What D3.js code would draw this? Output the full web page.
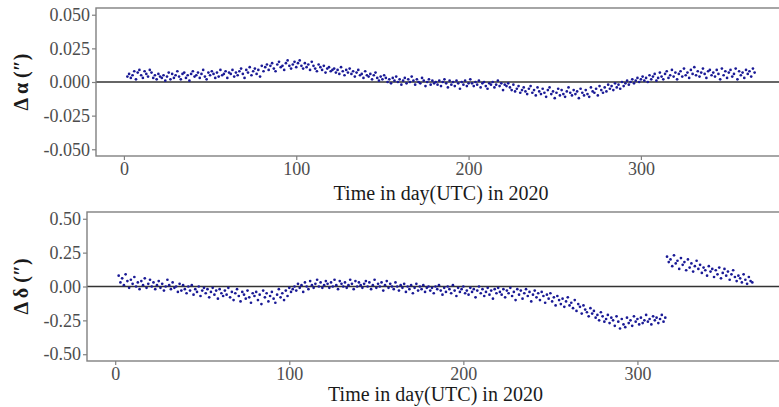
<!DOCTYPE html>
<html><head><meta charset="utf-8">
<script src="https://cdn.jsdelivr.net/npm/d3@7"></script>
<style>
body{margin:0;background:#fff;}
svg{display:block;}
</style></head>
<body>
<svg id="chart" width="779" height="407"></svg>
<script>
// ---- data ----
const firstDay = 2;   // first observation day (UTC day of 2020)
const lastDay = 366;
const xTicks = [0, 100, 200, 300];
const alphaTicks = [-0.050, -0.025, 0.000, 0.025, 0.050];
const deltaTicks = [-0.50, -0.25, 0.00, 0.25, 0.50];
const xTitle = "Time in day(UTC) in 2020";
const alphaTitle = "Δ α (″)";
const deltaTitle = "Δ δ (″)";
// Δα residuals, in units of 0.001″, one per day from firstDay
const dAlphaMilli = [
4,6,3,5,8,2,7,9,5,3,8,6,4,9,7,3,5,2,6,4,
3,5,1,4,7,2,6,3,5,8,4,2,6,7,3,5,1,6,8,4,
5,7,3,6,9,4,2,7,5,8,6,3,7,4,9,5,6,8,3,7,
6,9,4,7,5,8,10,6,3,9,7,11,5,8,10,6,9,4,12,8,
11,13,9,12,14,10,8,13,15,11,12,9,14,16,12,10,13,15,11,14,
16,12,10,14,11,13,9,15,12,10,8,13,11,9,12,7,10,11,8,9,
10,7,9,6,11,8,5,9,7,10,6,8,4,7,9,5,6,3,8,5,
4,6,2,5,7,3,1,4,2,5,3,0,2,-1,3,1,4,0,2,-2,
1,3,-1,2,0,4,1,-2,2,0,-1,3,1,-3,0,2,-2,1,-1,0,
-2,1,-3,0,2,-1,-4,1,-2,0,-3,1,-1,-5,0,-2,1,-3,-1,2,
-1,-3,0,-2,1,-4,-1,0,-3,-5,-1,-2,0,-4,-2,1,-3,-1,-6,-2,
-3,-1,-4,-6,-2,-7,-5,-3,-8,-6,-4,-7,-9,-5,-3,-8,-6,-10,-4,-7,
-9,-5,-8,-11,-6,-4,-9,-7,-12,-8,-5,-10,-6,-9,-11,-7,-4,-8,-10,-6,
-9,-7,-12,-5,-8,-10,-6,-9,-11,-4,-7,-8,-5,-10,-3,-6,-8,-4,-7,-2,
-5,-3,-6,-1,-4,-2,-5,0,-3,-1,1,-2,0,2,-1,1,3,0,2,4,
1,3,0,5,2,4,6,1,3,7,4,2,6,8,3,5,9,4,7,2,
6,8,4,10,5,7,3,9,6,11,5,8,4,7,10,6,3,8,9,5,
7,4,9,6,2,10,5,8,3,7,9,4,6,10,2,8,5,7,3,9,
6,8,4,10,7
];
// Δδ residuals, in units of 0.01″, one per day from firstDay
const dDeltaCenti = [
8,3,6,1,9,4,-1,5,2,7,0,3,-2,4,1,6,-1,2,5,0,
3,-2,1,4,-1,2,-3,0,5,1,-2,3,-1,0,-4,2,-3,1,-2,-5,
0,-3,1,-6,-2,-4,0,-7,-3,-1,-5,-2,-8,-4,-1,-6,-3,-9,-2,-5,
-7,-3,-6,-1,-8,-4,-10,-5,-2,-7,-11,-4,-6,-9,-3,-8,-12,-5,-7,-4,
-10,-6,-13,-3,-8,-5,-11,-7,-4,-9,-12,-6,-2,-8,-5,-10,-3,-7,-1,-4,
-2,0,-3,2,-1,1,-4,3,0,-2,4,1,-1,2,5,0,3,-1,1,4,
2,-1,3,0,5,1,-2,4,2,0,3,-1,1,5,2,-2,4,0,3,1,
-1,2,4,0,3,-2,1,5,-1,2,0,3,-3,1,4,-1,2,0,-2,3,
0,-3,1,-1,2,-4,0,-2,1,-5,-1,2,-3,0,-2,1,-4,-1,0,-3,
-1,-5,0,-2,1,-3,-6,-1,-4,0,-2,-5,1,-3,-7,-1,-4,-2,0,-5,
-3,-6,-1,-4,-2,-8,-3,0,-5,-2,-7,-4,-1,-6,-3,-9,-2,-5,-1,-4,
-6,-2,-8,-3,-5,-1,-7,-4,-10,-2,-6,-3,-9,-5,-2,-7,-4,-11,-6,-3,
-8,-5,-10,-4,-7,-12,-6,-9,-5,-11,-8,-14,-7,-10,-13,-9,-15,-11,-8,-14,
-12,-16,-10,-18,-13,-15,-20,-14,-17,-19,-22,-16,-20,-18,-23,-21,-25,-19,-22,-26,
-24,-21,-27,-23,-25,-29,-22,-26,-31,-24,-28,-30,-23,-27,-25,-29,-22,-26,-24,-28,
-23,-27,-25,-21,-26,-24,-28,-22,-25,-23,-27,-24,-21,-26,-23,
22,18,20,15,23,17,19,13,21,16,18,12,20,14,17,11,15,19,13,16,
10,14,12,8,15,11,13,7,12,9,14,6,10,13,8,11,5,9,12,7,
4,8,6,3,9,5,2,7,4,3
];

const days = d3.range(firstDay, lastDay + 1);
const alphaData = days.map((d, i) => ({day: d, v: dAlphaMilli[i] / 1000}));
const deltaData = days.map((d, i) => ({day: d, v: dDeltaCenti[i] / 100}));

// ---- drawing ----
const svg = d3.select("#chart");
const FONT = "'Liberation Serif','Times New Roman',serif";
const xPad = (lastDay - firstDay) * 0.05;

function panel(cfg) {
  const x = d3.scaleLinear().domain([firstDay - xPad, lastDay + xPad]).range([cfg.left, cfg.right]);
  const y = d3.scaleLinear().domain(cfg.domain).range([cfg.bottom, cfg.top]);
  const g = svg.append("g");

  // zero line
  g.append("line")
    .attr("x1", cfg.left).attr("x2", cfg.right)
    .attr("y1", y(0)).attr("y2", y(0))
    .attr("stroke", "#333").attr("stroke-width", 1.3);

  // points
  g.append("g").selectAll("circle").data(cfg.data).join("circle")
    .attr("cx", d => x(d.day)).attr("cy", d => y(d.v))
    .attr("r", 1.35).attr("fill", "#1a1a96");

  // frame
  g.append("rect")
    .attr("x", cfg.left).attr("y", cfg.top)
    .attr("width", cfg.right - cfg.left).attr("height", cfg.bottom - cfg.top)
    .attr("fill", "none").attr("stroke", "#808080").attr("stroke-width", 1.4);

  // axes
  const xa = g.append("g").attr("transform", `translate(0,${cfg.bottom})`)
    .call(d3.axisBottom(x).tickValues(xTicks).tickSize(4).tickPadding(2).tickFormat(d3.format("d")));
  const ya = g.append("g").attr("transform", `translate(${cfg.left},0)`)
    .call(d3.axisLeft(y).tickValues(cfg.ticks).tickSize(4).tickPadding(2).tickFormat(d3.format(cfg.fmt)));
  [xa, ya].forEach(a => {
    a.select(".domain").remove();
    a.selectAll(".tick line").attr("stroke", "#808080").attr("stroke-width", 1.2);
    a.selectAll(".tick text").attr("fill", "#4d4d4d").style("font-family", FONT).style("font-size", "18px");
  });
  ya.selectAll(".tick text").text(d => d3.format(cfg.fmt)(d).replace("−", "-"));

  // titles
  g.append("text")
    .attr("x", (cfg.left + cfg.right) / 2).attr("y", cfg.xTitleY)
    .attr("text-anchor", "middle")
    .style("font-family", FONT).style("font-size", "20px").attr("fill", "#1a1a1a")
    .text(xTitle);
  g.append("text")
    .attr("transform", `translate(${cfg.yTitleX},${y(0)}) rotate(-90)`)
    .attr("text-anchor", "middle").attr("dy", "0.35em")
    .style("font-family", FONT).style("font-size", "20px").style("font-weight", "bold").attr("fill", "#1a1a1a")
    .text(cfg.yTitle);
}

panel({left: 96, right: 786, top: 8, bottom: 156, domain: [-0.055, 0.055], ticks: alphaTicks, fmt: ".3f",
       data: alphaData, xTitleY: 200, yTitle: alphaTitle, yTitleX: 21});
panel({left: 87, right: 784, top: 212, bottom: 361, domain: [-0.55, 0.55], ticks: deltaTicks, fmt: ".2f",
       data: deltaData, xTitleY: 401, yTitle: deltaTitle, yTitleX: 21});
</script>
</body></html>
